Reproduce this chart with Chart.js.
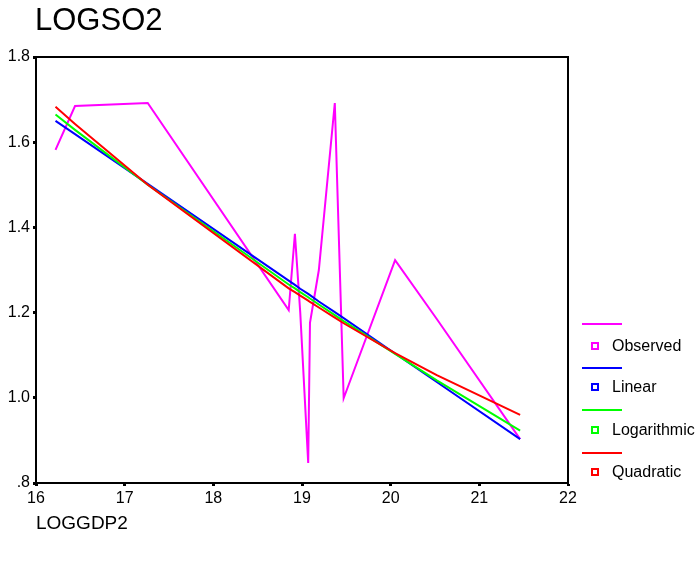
<!DOCTYPE html>
<html>
<head>
<meta charset="utf-8">
<script src="https://cdn.jsdelivr.net/npm/chart.js@4/dist/chart.umd.min.js"></script>
<style>
  html, body { margin: 0; padding: 0; background: #fff; }
  #wrap { position: relative; width: 695px; height: 563px; font-family: "Liberation Sans", Arial, sans-serif; color: #000; }
  canvas { position: absolute; left: 0; top: 0; }
  .title { position: absolute; left: 35px; top: 3px; font-size: 31px; line-height: 34px; }
  .xlabel { position: absolute; left: 36px; top: 512px; font-size: 19px; line-height: 22px; }
  .leg-line { position: absolute; left: 582px; width: 40px; height: 2px; }
  .leg-box { position: absolute; left: 591px; width: 4px; height: 4px; border-width: 2px; border-style: solid; }
  .leg-text { position: absolute; left: 612px; font-size: 16px; line-height: 18px; white-space: nowrap; }
</style>
</head>
<body>
<div id="wrap">
  <canvas id="c" width="695" height="563"></canvas>
  <div class="title">LOGSO2</div>
  <div class="xlabel">LOGGDP2</div>
  <div id="legend"></div>
</div>
<script>
// Data
const loggdp2     = [16.22, 16.44, 17.26, 18.85, 18.92, 18.98, 19.07, 19.09, 19.19, 19.37, 19.47, 20.05, 20.52, 21.46];
const observed    = [1.582, 1.685, 1.692, 1.206, 1.385, 1.201, 0.847, 1.176, 1.300, 1.692, 0.999, 1.323, 1.185, 0.903];
const linearFit   = [1.650, 1.619, 1.502, 1.275, 1.265, 1.256, 1.244, 1.241, 1.226, 1.201, 1.187, 1.104, 1.037, 0.903];
const logFit      = [1.665, 1.629, 1.500, 1.266, 1.257, 1.248, 1.236, 1.233, 1.219, 1.194, 1.180, 1.103, 1.041, 0.923];
const quadFit     = [1.683, 1.643, 1.500, 1.257, 1.248, 1.240, 1.228, 1.225, 1.212, 1.188, 1.175, 1.105, 1.053, 0.960];
const xTicks      = [16, 17, 18, 19, 20, 21, 22];
const yTicks      = [0.8, 1.0, 1.2, 1.4, 1.6, 1.8];
const seriesNames = ["Observed", "Linear", "Logarithmic", "Quadratic"];
const seriesColors = ["#ff00ff", "#0000ff", "#00ff00", "#ff0000"];

const seriesValues = [observed, linearFit, logFit, quadFit];

const datasets = seriesNames.map((name, i) => ({
  label: name,
  data: loggdp2.map((x, k) => ({ x: x, y: seriesValues[i][k] })),
  borderColor: seriesColors[i],
  backgroundColor: seriesColors[i],
  borderWidth: 2,
  pointRadius: 0,
  tension: 0,
  fill: false,
  order: -i
}));

const frame = {
  id: 'frame',
  afterDatasetsDraw(chart) {
    const a = chart.chartArea, ctx = chart.ctx;
    ctx.save();
    ctx.strokeStyle = '#000';
    ctx.lineWidth = 2;
    ctx.beginPath();
    ctx.moveTo(a.left, a.top);
    ctx.lineTo(a.right, a.top);
    ctx.lineTo(a.right, a.bottom);
    ctx.stroke();
    ctx.restore();
  }
};

const tickFont = { family: "'Liberation Sans', Arial, sans-serif", size: 16 };

new Chart(document.getElementById('c'), {
  type: 'line',
  data: { datasets },
  plugins: [frame],
  options: {
    responsive: false,
    devicePixelRatio: 1,
    animation: false,
    layout: { padding: { top: 57, right: 127, left: 0, bottom: 0 } },
    plugins: { legend: { display: false }, tooltip: { enabled: false }, title: { display: false } },
    scales: {
      x: {
        type: 'linear',
        min: xTicks[0], max: xTicks[xTicks.length - 1],
        afterBuildTicks: s => { s.ticks = xTicks.map(v => ({ value: v })); },
        ticks: { color: '#000', font: tickFont, padding: 3, maxRotation: 0, autoSkip: false,
                 callback: v => String(v) },
        grid: { drawOnChartArea: false, drawTicks: true, tickLength: 3, tickWidth: 3, tickColor: '#000' },
        border: { display: true, color: '#000', width: 2 },
        afterFit: s => { s.height = 80; }
      },
      y: {
        type: 'linear',
        min: yTicks[0], max: yTicks[yTicks.length - 1],
        afterBuildTicks: s => { s.ticks = yTicks.map(v => ({ value: v })); },
        ticks: { color: '#000', font: tickFont, padding: 3, autoSkip: false,
                 callback: v => v.toFixed(1).replace(/^0\./, '.') },
        grid: { drawOnChartArea: false, drawTicks: true, tickLength: 3, tickWidth: 3, tickColor: '#000' },
        border: { display: true, color: '#000', width: 2 },
        afterFit: s => { s.width = 36; }
      }
    }
  }
});

// HTML legend
const legendRows = [324, 368, 410, 453];
const legendText = [346, 387, 430, 472];
const leg = document.getElementById('legend');
seriesNames.forEach((name, i) => {
  const line = document.createElement('div');
  line.className = 'leg-line';
  line.style.top = (legendRows[i] - 1) + 'px';
  line.style.background = seriesColors[i];
  leg.appendChild(line);
  const box = document.createElement('div');
  box.className = 'leg-box';
  box.style.top = (legendText[i] - 4) + 'px';
  box.style.borderColor = seriesColors[i];
  leg.appendChild(box);
  const t = document.createElement('div');
  t.className = 'leg-text';
  t.style.top = (legendText[i] - 9) + 'px';
  t.textContent = name;
  leg.appendChild(t);
});
</script>
</body>
</html>
